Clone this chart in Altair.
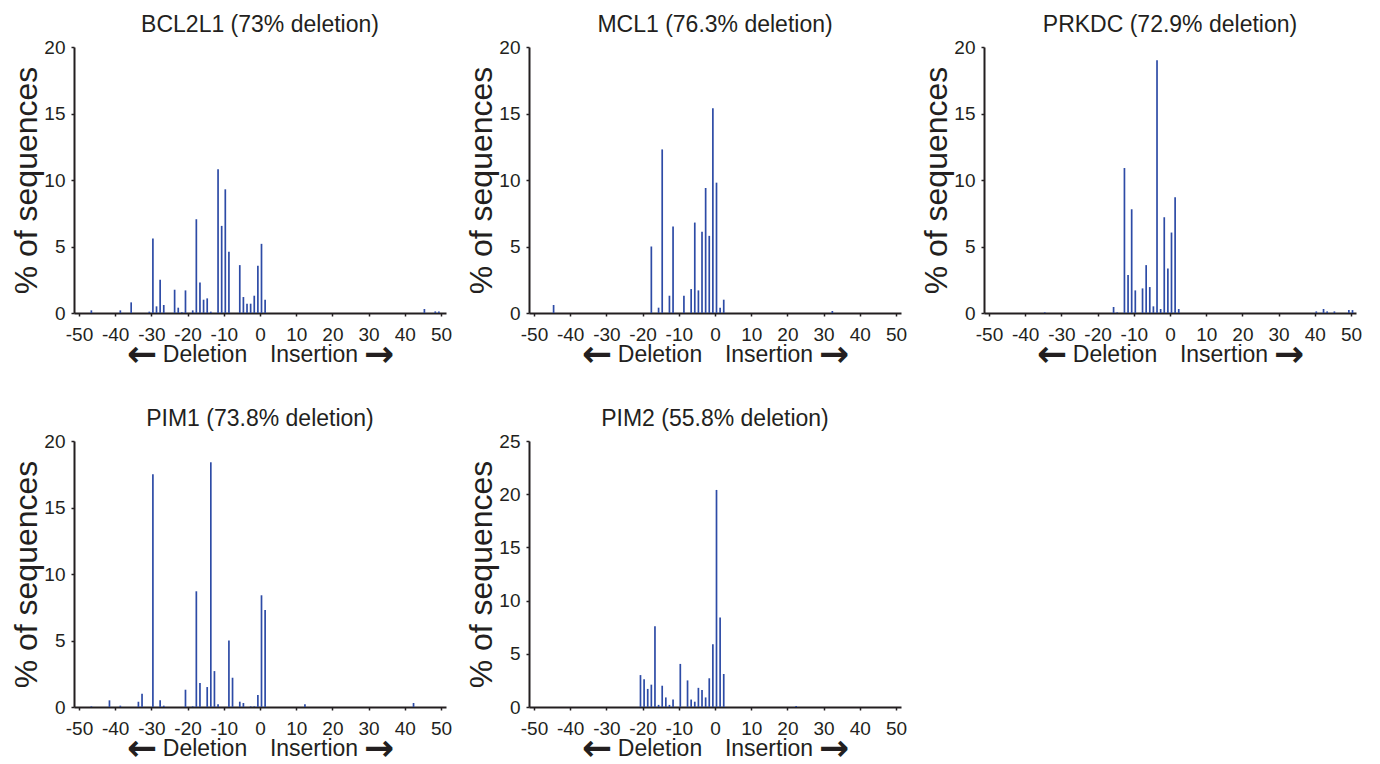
import altair as alt
import pandas as pd

FONT = "Liberation Sans, Arial, sans-serif"
BAR = "#2d4ba6"
INK = "#231f20"

# ---- data ----
genes = ["BCL2L1", "MCL1", "PRKDC", "PIM1", "PIM2"]
deletion_share = ["73%", "76.3%", "72.9%", "73.8%", "55.8%"]
y_max = [20, 20, 20, 20, 25]
x_ticks = [-50, -40, -30, -20, -10, 0, 10, 20, 30, 40, 50]

bcl2l1_indel = [-47, -39, -36, -31, -30, -29, -28, -27, -24, -23, -22, -21, -19, -18, -17, -16, -15, -14,
                -12, -11, -10, -9, -6, -5, -4, -3, -2, -1, 0, 1, 45, 48, 49]
bcl2l1_pct = [0.2, 0.2, 0.8, 0.1, 5.6, 0.5, 2.5, 0.6, 1.75, 0.4, 0.05, 1.7, 0.2, 7.05, 2.3, 1.0, 1.1, 0.1,
              10.8, 6.55, 9.3, 4.6, 3.6, 1.2, 0.7, 0.7, 1.3, 3.55, 5.2, 1.0, 0.3, 0.12, 0.12]

mcl1_indel = [-45, -18, -16, -15, -13, -12, -9, -7, -6, -5, -4, -3, -2, -1, 0, 1, 2, 32]
mcl1_pct = [0.6, 5.0, 0.4, 12.3, 1.3, 6.5, 1.3, 1.8, 6.8, 1.7, 6.1, 9.4, 5.8, 15.4, 9.8, 0.4, 1.0, 0.15]

prkdc_indel = [-35, -16, -15, -13, -12, -11, -10, -8, -7, -6, -5, -4, -3, -2, -1, 0, 1, 2,
               40, 42, 43, 45, 49, 50]
prkdc_pct = [0.05, 0.45, 0.05, 10.9, 2.85, 7.8, 1.7, 1.85, 3.6, 1.95, 0.5, 19.0, 0.3, 7.2, 3.35, 6.05, 8.7, 0.3,
             0.12, 0.3, 0.12, 0.12, 0.22, 0.22]

pim1_indel = [-47, -42, -39, -34, -33, -30, -28, -27, -21, -19, -18, -17, -15, -14, -13, -12, -9, -8,
              -6, -5, -3, -2, -1, 0, 1, 12, 42]
pim1_pct = [0.05, 0.5, 0.1, 0.4, 1.0, 17.5, 0.5, 0.1, 1.3, 0.05, 8.7, 1.8, 1.5, 18.4, 2.7, 0.2, 5.0, 2.2,
            0.4, 0.3, 0.05, 0.05, 0.9, 8.4, 7.3, 0.2, 0.3]

pim2_indel = [-21, -20, -19, -18, -17, -16, -15, -14, -13, -12, -10, -8, -7, -6, -5, -4, -3, -2,
              -1, 0, 1, 2, 22]
pim2_pct = [3.0, 2.6, 1.7, 2.1, 7.6, 0.2, 2.0, 0.9, 0.2, 0.7, 4.05, 2.5, 0.7, 0.5, 1.8, 1.6, 0.9, 2.7,
            5.9, 20.4, 8.4, 3.1, 0.1]

series = [
    (bcl2l1_indel, bcl2l1_pct),
    (mcl1_indel, mcl1_pct),
    (prkdc_indel, prkdc_pct),
    (pim1_indel, pim1_pct),
    (pim2_indel, pim2_pct),
]

W, H = 372, 266


def note(text, px, size, weight, font=FONT):
    return alt.Chart(pd.DataFrame({"k": [0]})).mark_text(
        text=text, font=font, fontSize=size, fontWeight=weight, color=INK,
        align="center", baseline="middle",
    ).encode(x=alt.value(px), y=alt.value(H + 42))


def panel(gene, share, ymax, indel, pct):
    df = pd.DataFrame({"indel": indel, "pct": pct})
    bars = alt.Chart(df).mark_bar(size=1.7, color=BAR, xOffset=1.5).encode(
        x=alt.X(
            "indel:Q",
            scale=alt.Scale(domain=[-50, 50], nice=False, zero=False),
            axis=alt.Axis(values=x_ticks, title=None, labelExpr="'' + datum.value",
                          labelFlush=False, labelOverlap=False, labelPadding=9),
        ),
        y=alt.Y(
            "pct:Q",
            scale=alt.Scale(domain=[0, ymax], nice=False),
            axis=alt.Axis(values=list(range(0, ymax + 1, 5)), title="% of sequences",
                          titleFontSize=32, titlePadding=0, labelPadding=6),
        ),
    )
    return alt.layer(
        bars,
        note("\u2190", 68, 36, "bold", "DejaVu Sans"),
        note("Deletion", 131, 23, "normal"),
        note("Insertion", 240, 23, "normal"),
        note("\u2192", 305, 36, "bold", "DejaVu Sans"),
    ).properties(
        width=W,
        height=H,
        title=alt.TitleParams(
            text=f"{gene} ({share} deletion)", font=FONT, fontSize=23, fontWeight="normal",
            color=INK, anchor="middle", frame="group", offset=-17, baseline="alphabetic",
        ),
    )


panels = [panel(g, s, m, i, p) for g, s, m, (i, p) in zip(genes, deletion_share, y_max, series)]

chart = alt.concat(
    *panels, columns=3, spacing={"row": 128, "column": 83}, bounds="flush"
).properties(
    padding={"left": 10, "top": 14, "right": 5, "bottom": 4}
).configure_view(stroke=None).configure_axis(
    domainColor=INK, domainWidth=2, tickColor=INK, tickWidth=1.5, tickSize=3,
    labelFont=FONT, labelFontSize=19, labelColor=INK,
    titleFont=FONT, titleFontWeight="normal", titleColor=INK, grid=False,
)

chart.save("out.html", embed_options={"renderer": "svg", "actions": False})
